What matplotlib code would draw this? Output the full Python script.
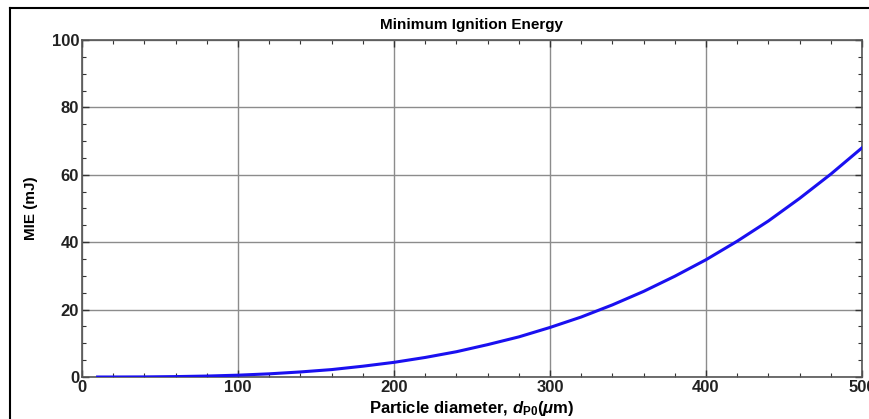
import matplotlib
matplotlib.use("Agg")
import matplotlib.pyplot as plt
from matplotlib.ticker import MultipleLocator
from matplotlib.lines import Line2D

plt.rcParams['font.family'] = ['Liberation Sans', 'DejaVu Sans']
plt.rcParams['mathtext.fontset'] = 'custom'
plt.rcParams['mathtext.rm'] = 'Liberation Sans:bold'
plt.rcParams['mathtext.it'] = 'Liberation Sans:bold:italic'
plt.rcParams['mathtext.bf'] = 'Liberation Sans:bold'

# Data
diameter_um = [10, 20, 40, 60, 80, 100, 120, 140, 160, 180, 200, 220, 240,
               260, 280, 300, 320, 340, 360, 380, 400, 420, 440, 460, 480, 500]
mie_mJ = [0.0, 0.0, 0.03, 0.12, 0.28, 0.54, 0.94, 1.5, 2.2, 3.2, 4.35, 5.8,
          7.5, 9.6, 11.9, 14.7, 17.8, 21.4, 25.4, 29.9, 34.8, 40.3, 46.3,
          53.0, 60.2, 68.0]
x_ticks = [0, 100, 200, 300, 400, 500]
y_ticks = [0, 20, 40, 60, 80, 100]

W, H = 870, 419
fig = plt.figure(figsize=(W / 100, H / 100), dpi=100)
ax = fig.add_axes([82 / W, 1 - 377 / H, (862 - 82) / W, (377 - 40) / H])

ax.plot(diameter_um, mie_mJ, color='#1a10f0', lw=2.2, zorder=3,
        solid_joinstyle='round')

ax.set_xlim(0, 500)
ax.set_ylim(0, 100)
ax.set_xticks(x_ticks)
ax.set_yticks(y_ticks)
ax.xaxis.set_minor_locator(MultipleLocator(20))
ax.yaxis.set_minor_locator(MultipleLocator(5))
ax.grid(True, which='major', color='#8c8c8c', lw=1.0)
ax.tick_params(which='both', direction='in', top=True, right=True,
               color='#333333', labelsize=12, pad=2)
ax.tick_params(which='major', length=5, width=1)
ax.tick_params(which='minor', length=3, width=0.8)
for lab in ax.get_xticklabels() + ax.get_yticklabels():
    lab.set_fontweight('bold')
    lab.set_color('#222222')
for sp in ax.spines.values():
    sp.set_color('#555555')
    sp.set_linewidth(1.2)

ax.set_title('Minimum Ignition Energy', fontsize=11, fontweight='bold', pad=8)
ax.set_xlabel(r'Particle diameter, $d_{\mathrm{P0}}$($\mathit{\mu}$m)',
              fontsize=12, fontweight='bold', labelpad=3)
ax.set_ylabel('MIE (mJ)', fontsize=11, fontweight='bold', labelpad=10)

# outer frame lines (left and top)
fig.add_artist(Line2D([10.5 / W, 10.5 / W], [0, 1 - 8.5 / H],
                      transform=fig.transFigure, color='black', lw=1.5))
fig.add_artist(Line2D([10.5 / W, 1], [1 - 8.5 / H, 1 - 8.5 / H],
                      transform=fig.transFigure, color='black', lw=1.5))

fig.savefig('out.png', dpi=100)
